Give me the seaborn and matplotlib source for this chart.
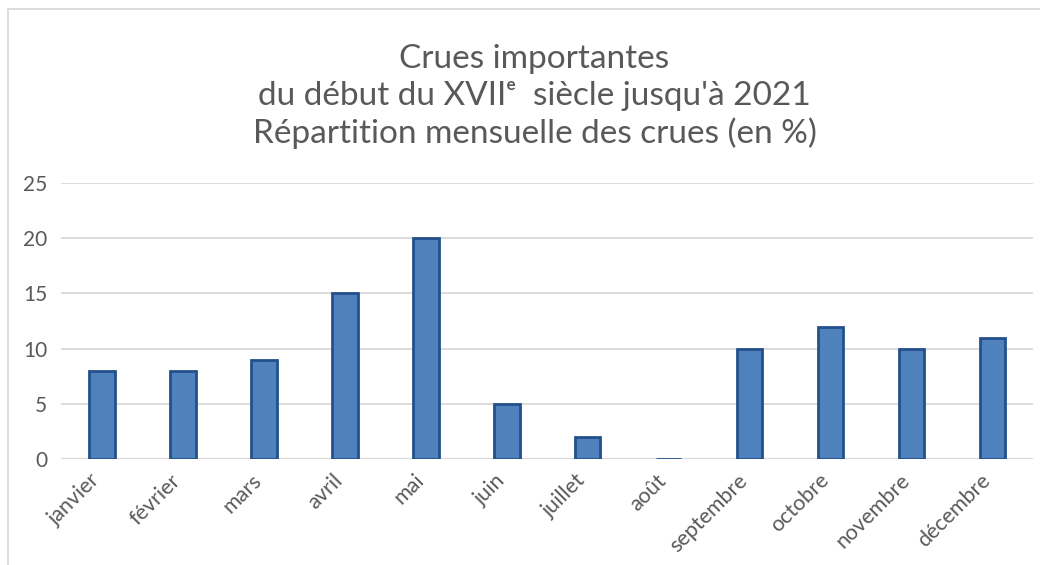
import pandas as pd
import seaborn as sns
import matplotlib.pyplot as plt
import matplotlib.transforms as mtrans
from matplotlib.patches import Rectangle

# monthly share of major floods (%)
mois = ["janvier", "février", "mars", "avril", "mai", "juin", "juillet",
        "août", "septembre", "octobre", "novembre", "décembre"]
crues = [8, 8, 9, 15, 20, 5, 2, 0, 10, 12, 10, 11]
yticks = [0, 5, 10, 15, 20, 25]

titre = ["Crues importantes",
         "du début du XVII\u1d49  siècle jusqu'à 2021",
         "Répartition mensuelle des crues (en %)"]

df = pd.DataFrame({"mois": mois, "crues": crues})

sns.set_style("white")
plt.rcParams['font.family'] = ['Lato', 'DejaVu Sans']
txt = "#595959"

fig = plt.figure(figsize=(10.4, 5.65), dpi=100)
ax = fig.add_axes([0.0587, 0.1876, 0.9346, 0.4885])

sns.barplot(data=df, x="mois", y="crues", ax=ax, color="#4F81BD",
            saturation=1, width=0.32, edgecolor="#23508C", linewidth=2)

ax.set_ylim(0, 25)
ax.set_xlim(-0.5, len(mois) - 0.5)
ax.set_yticks(yticks)
ax.yaxis.grid(True, color="#D9D9D9", linewidth=1.3)
ax.set_axisbelow(True)
sns.despine(ax=ax, left=True, bottom=True)
ax.axhline(0, color="#D9D9D9", linewidth=1.5, zorder=0)
ax.set_xlabel("")
ax.set_ylabel("")
ax.tick_params(axis="y", labelsize=15, labelcolor=txt, length=0, pad=10)
ax.tick_params(axis="x", labelsize=15.5, labelcolor=txt, length=0, pad=8)
shift = mtrans.ScaledTranslation(-12 / 100, 0, fig.dpi_scale_trans)
for lab in ax.get_xticklabels():
    lab.set_rotation(45)
    lab.set_ha("right")
    lab.set_va("top")
    lab.set_rotation_mode("anchor")
    lab.set_transform(lab.get_transform() + shift)

for i, ligne in enumerate(titre):
    fig.text(0.514, 0.896 - i * 0.0655, ligne, ha="center", va="center",
             fontsize=24, color=txt)

# chart frame (extends past the right and bottom edges)
fig.patches.append(Rectangle((8 / 1040, -0.1), 1.2, 0.1 + (565 - 9) / 565,
                             transform=fig.transFigure, fill=False,
                             edgecolor="#D9D9D9", linewidth=1.3))

fig.savefig("out.png", dpi=100)
